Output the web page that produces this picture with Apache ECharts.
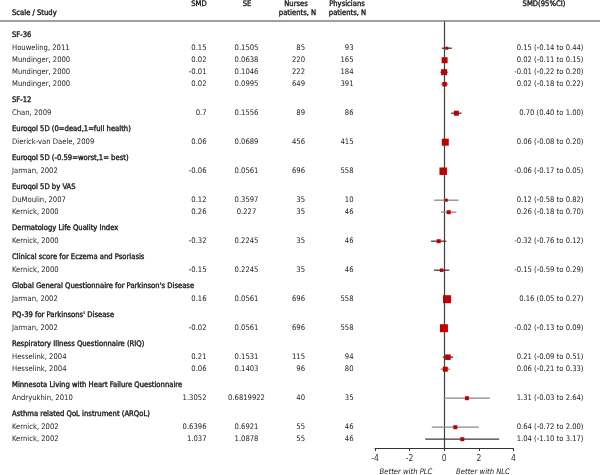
<!DOCTYPE html>
<html>
<head>
<meta charset="utf-8">
<script src="https://cdn.jsdelivr.net/npm/echarts@6/dist/echarts.min.js"></script>
<style>html,body{margin:0;padding:0;background:#fff}#chart{width:600px;height:475px}</style>
</head>
<body>
<div id="chart"></div>
<script>
// ---------- DATA ----------
const groups = [
  'SF-36',
  'SF-12',
  'Euroqol 5D (0=dead,1=full health)',
  'Euroqol 5D (-0.59=worst,1= best)',
  'Euroqol 5D by VAS',
  'Dermatology Life Quality Index',
  'Clinical score for Eczema and Psoriasis',
  "Global General Questionnaire for Parkinson's Disease",
  "PQ-39 for Parkinsons' Disease",
  'Respiratory Illness Questionnaire (RIQ)',
  'Minnesota Living with Heart Failure Questionnaire',
  'Asthma related QoL instrument (ARQoL)'
];
const studyGroup = [0,0,0,0,1,2,3,4,4,5,6,7,8,9,9,10,11,11];
const studies = ['Houweling, 2011','Mundinger, 2000','Mundinger, 2000','Mundinger, 2000','Chan, 2009',
  'Dierick-van Daele, 2009','Jarman, 2002','DuMoulin, 2007','Kernick, 2000','Kernick, 2000','Kernick, 2000',
  'Jarman, 2002','Jarman, 2002','Hesselink, 2004','Hesselink, 2004','Andryukhin, 2010','Kernick, 2002','Kernick, 2002'];
const smdText = ['0.15','0.02','-0.01','0.02','0.7','0.06','-0.06','0.12','0.26','-0.32','-0.15','0.16','-0.02','0.21','0.06','1.3052','0.6396','1.037'];
const seText = ['0.1505','0.0638','0.1046','0.0995','0.1556','0.0689','0.0561','0.3597','0.227','0.2245','0.2245','0.0561','0.0561','0.1531','0.1403','0.6819922','0.6921','1.0878'];
const nurses = [85,220,222,649,89,456,696,35,35,35,35,696,696,115,96,40,55,55];
const physicians = [93,165,184,391,86,415,558,10,46,46,46,558,558,94,80,35,46,46];
const smd = [0.15,0.02,-0.01,0.02,0.70,0.06,-0.06,0.12,0.26,-0.32,-0.15,0.16,-0.02,0.21,0.06,1.31,0.64,1.04];
const ciLow = [-0.14,-0.11,-0.22,-0.18,0.40,-0.08,-0.17,-0.58,-0.18,-0.76,-0.59,0.05,-0.13,-0.09,-0.21,-0.03,-0.72,-1.10];
const ciHigh = [0.44,0.15,0.20,0.22,1.00,0.20,0.05,0.82,0.70,0.12,0.29,0.27,0.09,0.51,0.33,2.64,2.00,3.17];
const xTicks = [-4,-2,0,2,4];
const headerTexts = ['Scale / Study','SMD','SE','Nurses','patients, N','Physicians','patients, N','SMD(95%CI)'];
const axisNotes = ['Better with PLC','Better with NLC'];

// ---------- STYLE ----------
const FONT = "'Liberation Sans Narrow', 'DejaVu Sans Condensed', 'Liberation Sans', sans-serif";
const FS = 7.6;
const TXT = '#1a1a1a';
const SEMIBOLD = {stroke: TXT, lineWidth: 0.35};
const markerSizes = [3,6,6,4.5,5,7,7.5,3,4,4,3.5,8,8,5.5,5,4,4,4];
const DARK = '#3a3a3a', GRAY = '#8a8a8a';
const ciColors = [DARK,DARK,DARK,GRAY,DARK,DARK,DARK,GRAY,GRAY,DARK,DARK,DARK,DARK,DARK,GRAY,GRAY,GRAY,DARK];
const GAP_HEADER_TO_STUDY = 13.5, GAP_STUDY_TO_STUDY = 12, GAP_STUDY_TO_HEADER = 15.5;
const GRID_TOP = 21, GRID_H = 427, Y_MIN = -13.7;
const COL = {study:12, smd:206.5, se:246.5, nurses:305, phys:353.5, ci:583.5};

// ---------- ROW LAYOUT ----------
const headerRows = [];
const studyPos = [];
let pos = 0, prevGroup = -1;
studies.forEach((s, i) => {
  if (studyGroup[i] !== prevGroup) {
    if (i > 0) pos += GAP_STUDY_TO_HEADER;
    headerRows.push({text: groups[studyGroup[i]], pos});
    pos += GAP_HEADER_TO_STUDY;
    prevGroup = studyGroup[i];
  } else {
    pos += GAP_STUDY_TO_STUDY;
  }
  studyPos.push(pos);
});

const cells = [];
headerRows.forEach(h => cells.push({x: COL.study, pos: h.pos, text: h.text, align: 'left', bold: true}));
studies.forEach((s, i) => {
  const p = studyPos[i];
  cells.push({x: COL.study, pos: p, text: s, align: 'left'});
  cells.push({x: COL.smd, pos: p, text: smdText[i], align: 'right'});
  cells.push({x: COL.se, pos: p, text: seText[i], align: 'center'});
  cells.push({x: COL.nurses, pos: p, text: String(nurses[i]), align: 'right'});
  cells.push({x: COL.phys, pos: p, text: String(physicians[i]), align: 'right'});
  cells.push({x: COL.ci, pos: p, text: smd[i].toFixed(2) + ' (' + ciLow[i].toFixed(2) + ' to ' + ciHigh[i].toFixed(2) + ')', align: 'right'});
});

const chart = echarts.init(document.getElementById('chart'), null, {renderer: 'canvas'});

function hText(x, y, text, align) {
  return {
    type: 'text', x, y,
    style: Object.assign({text, font: FS + 'px ' + FONT, fill: TXT, textAlign: align, textVerticalAlign: 'middle'}, SEMIBOLD)
  };
}

const option = {
  animation: false,
  backgroundColor: '#fff',
  grid: [
    {left: 0, right: 0, top: GRID_TOP, height: GRID_H},
    {left: 375, width: 138.5, top: GRID_TOP, height: GRID_H}
  ],
  xAxis: [
    {gridIndex: 0, type: 'value', min: 0, max: 600, position: 'top',
     axisLine: {show: true, onZero: false, lineStyle: {color: '#7f7f7f', width: 1.5}},
     axisTick: {show: false}, axisLabel: {show: false}, splitLine: {show: false}},
    {gridIndex: 1, type: 'value', min: xTicks[0], max: xTicks[xTicks.length - 1], interval: 2,
     axisLine: {show: true, onZero: false, lineStyle: {color: '#333', width: 1}},
     axisTick: {show: true, length: 3, lineStyle: {color: '#333'}},
     axisLabel: {fontFamily: FONT, fontSize: 8.5, color: '#333', margin: 6},
     splitLine: {show: false}}
  ],
  yAxis: [
    {gridIndex: 0, type: 'value', inverse: true, min: Y_MIN, max: Y_MIN + GRID_H, show: false},
    {gridIndex: 1, type: 'value', inverse: true, min: Y_MIN, max: Y_MIN + GRID_H,
     axisLine: {show: true, onZero: true, lineStyle: {color: '#404040', width: 1.2}},
     axisTick: {show: false}, axisLabel: {show: false}, splitLine: {show: false}}
  ],
  series: [
    {
      type: 'custom', xAxisIndex: 0, yAxisIndex: 0, silent: true,
      data: cells.map(c => [c.x, c.pos]),
      renderItem: (params, api) => {
        const c = cells[params.dataIndex];
        const p = api.coord([api.value(0), api.value(1)]);
        const st = {text: c.text, font: FS + 'px ' + FONT, fill: TXT, textAlign: c.align, textVerticalAlign: 'middle'};
        if (c.bold) Object.assign(st, SEMIBOLD);
        return {type: 'text', x: p[0], y: p[1], style: st};
      }
    },
    {
      type: 'custom', xAxisIndex: 1, yAxisIndex: 1, silent: true, clip: false,
      data: studies.map((s, i) => [smd[i], ciLow[i], ciHigh[i], studyPos[i]]),
      encode: {x: [0, 1, 2], y: 3},
      renderItem: (params, api) => {
        const i = params.dataIndex;
        const y = api.value(3);
        const c = api.coord([api.value(0), y]);
        const lo = api.coord([api.value(1), y]);
        const hi = api.coord([api.value(2), y]);
        const s = markerSizes[i];
        return {type: 'group', children: [
          {type: 'line', shape: {x1: lo[0], y1: lo[1], x2: hi[0], y2: hi[1]},
           style: {stroke: ciColors[i], lineWidth: 1.3}},
          {type: 'rect', shape: {x: c[0] - s / 2, y: c[1] - s / 2, width: s, height: s},
           style: {fill: '#c00000'}}
        ]};
      }
    }
  ],
  graphic: [
    hText(12, 13.5, headerTexts[0], 'left'),
    hText(199, 4.5, headerTexts[1], 'center'),
    hText(247, 4.5, headerTexts[2], 'center'),
    hText(296, 4.5, headerTexts[3], 'center'),
    hText(297.5, 13.5, headerTexts[4], 'center'),
    hText(347, 4.5, headerTexts[5], 'center'),
    hText(347.5, 13.5, headerTexts[6], 'center'),
    hText(544, 4.5, headerTexts[7], 'center'),
    {type: 'text', x: 406, y: 472, style: {text: axisNotes[0], font: 'italic ' + FS + 'px ' + FONT, fill: TXT, textAlign: 'center', textVerticalAlign: 'middle'}},
    {type: 'text', x: 483, y: 472, style: {text: axisNotes[1], font: 'italic ' + FS + 'px ' + FONT, fill: TXT, textAlign: 'center', textVerticalAlign: 'middle'}}
  ]
};
chart.setOption(option);
</script>
</body>
</html>
